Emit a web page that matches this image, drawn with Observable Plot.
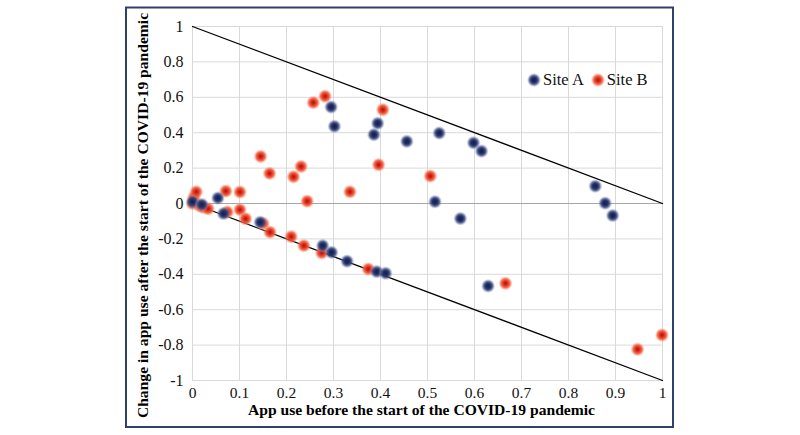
<!DOCTYPE html>
<html>
<head>
<meta charset="utf-8">
<script src="https://cdn.jsdelivr.net/npm/d3@7"></script>
<script src="https://cdn.jsdelivr.net/npm/@observablehq/plot@0.6"></script>
<style>
  body { margin: 0; background: #fff; }
  #wrap { position: relative; width: 800px; height: 435px; }
  #legend {
    position: absolute; left: 527px; top: 70px;
    font-family: "Liberation Serif", serif; font-size: 16.5px; color: #111;
    display: flex; align-items: center;
  }
  #legend span { display: inline-flex; align-items: center; margin-right: 7px; }
  #legend svg { margin-right: 2px; }
</style>
</head>
<body>
<div id="wrap">
  <div id="chart"></div>
  <div id="legend"></div>
</div>
<script>
// values
const siteAx = [0.0, 0.02, 0.054, 0.066, 0.144, 0.277, 0.296, 0.295, 0.302, 0.329, 0.386, 0.394,
  0.392, 0.411, 0.456, 0.516, 0.525, 0.570, 0.598, 0.615, 0.629, 0.857, 0.878, 0.894]
const siteAy = [0.01, -0.006, 0.031, -0.057, -0.106, -0.238, -0.276, 0.545, 0.436, -0.326, 0.389, 0.453,
  -0.385, -0.394, 0.351, 0.010, 0.398, -0.085, 0.343, 0.296, -0.466, 0.098, 0.002, -0.068]

const siteBx = [0.0, 0.003, 0.008, 0.015, 0.022, 0.033, 0.071, 0.074, 0.101, 0.101, 0.113, 0.145,
  0.150, 0.164, 0.165, 0.210, 0.215, 0.231, 0.237, 0.244, 0.257, 0.275, 0.282, 0.335, 0.374,
  0.396, 0.405, 0.506, 0.666, 0.947, 0.999]
const siteBy = [0.0, 0.035, 0.066, -0.012, -0.021, -0.030, 0.070, -0.048, 0.065, -0.035, -0.086, 0.266,
  -0.113, 0.170, -0.162, -0.187, 0.151, 0.209, -0.238, 0.013, 0.570, -0.279, 0.606, 0.066, -0.370,
  0.219, 0.530, 0.155, -0.451, -0.824, -0.743]

// the two reference lines
const upperLine = [[0, 1], [1, 0]]
const lowerLine = [[0, 0], [1, -1]]

const xTicks = d3.range(0, 11).map(d => d / 10)
const yTicks = d3.range(-5, 6).map(d => d / 5)

const siteA = siteAx.map((x, i) => ({x, y: siteAy[i]}))
const siteB = siteBx.map((x, i) => ({x, y: siteBy[i]}))

const fmt = d => String(Math.round(d * 10) / 10)
const serif = '"Liberation Serif", "Times New Roman", serif'

let chart = Plot.plot({
  width: 800,
  height: 435,
  marginLeft: 192,
  marginRight: 138,
  marginTop: 26,
  marginBottom: 55,
  x: {domain: [0, 1]},
  y: {domain: [-1, 1]},
  marks: [
    Plot.gridX(xTicks, {stroke: "#d9d9d9", strokeOpacity: 1}),
    Plot.gridY(yTicks, {stroke: "#d9d9d9", strokeOpacity: 1}),
    Plot.ruleY([0], {stroke: "#a6a6a6", strokeWidth: 1.2}),
    Plot.axisX(xTicks, {tickSize: 0, tickPadding: 6, tickFormat: fmt, fontSize: 15.5, label: null}),
    Plot.axisY(yTicks, {tickSize: 0, tickPadding: 9, tickFormat: fmt, fontSize: 16, label: null}),
    Plot.line(upperLine, {x: d => d[0], y: d => d[1], stroke: "#000", strokeWidth: 1.3}),
    Plot.line(lowerLine, {x: d => d[0], y: d => d[1], stroke: "#000", strokeWidth: 1.3}),
    Plot.dot(siteB, {x: "x", y: "y", r: 7, fill: "url(#gradB)", stroke: "none"}),
    Plot.dot(siteA, {x: "x", y: "y", r: 7, fill: "url(#gradA)", stroke: "none"}),
    Plot.text(["App use before the start of the COVID-19 pandemic"], {
      frameAnchor: "bottom", dy: 34, dx: -6, fontSize: 15.6, fontWeight: "bold", fill: "#000"
    }),
    Plot.text(["Change in app use after the start of the COVID-19 pandemic"], {
      frameAnchor: "left", textAnchor: "middle", rotate: -90, dx: -50, dy: 12,
      fontSize: 15.6, fontWeight: "bold", fill: "#000"
    })
  ],
  style: {
    background: "#ffffff",
    color: "#111",
    fontFamily: serif,
    overflow: "visible"
  }
})

// glowing dot fills
const defs = d3.select(chart).insert("defs", ":first-child")
function grad(id, stops) {
  const g = defs.append("radialGradient").attr("id", id)
  stops.forEach(([o, c, a]) => g.append("stop").attr("offset", o).attr("stop-color", c).attr("stop-opacity", a))
}
grad("gradA", [["0%", "#141c4a", 1], ["40%", "#25336a", 1], ["65%", "#3c4a80", 0.8], ["100%", "#a0a8cc", 0.1]])
grad("gradB", [["0%", "#a8101a", 1], ["35%", "#e4321f", 1], ["65%", "#f25a35", 0.85], ["100%", "#f7a08a", 0.1]])

// outer box
d3.select(chart).append("rect")
  .attr("x", 126).attr("y", 7.5).attr("width", 547).attr("height", 419.5)
  .attr("fill", "none").attr("stroke", "#2f3f6e").attr("stroke-width", 2)

d3.select('#chart').append(() => chart)

// legend
const legend = d3.select('#legend')
;[["Site A", "gradA"], ["Site B", "gradB"]].forEach(([name, id]) => {
  const s = legend.append("span")
  s.append("svg").attr("width", 14).attr("height", 14)
    .append("circle").attr("cx", 7).attr("cy", 7).attr("r", 7).attr("fill", `url(#${id})`)
  s.append("text").text(name)
})
</script>
</body>
</html>
